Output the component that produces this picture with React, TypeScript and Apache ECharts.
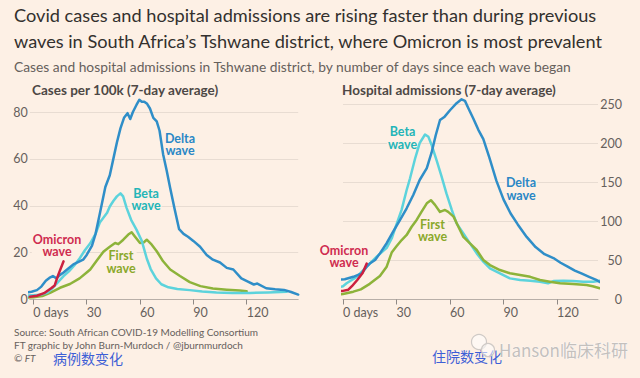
import React, { useEffect, useRef } from "react";
import * as echarts from "echarts";

// ---------- data (day since wave began, 7-day average) ----------
const dayTicks = [0, 30, 60, 90, 120];
const casesTicks = [0, 20, 40, 60, 80];
const admissionTicks = [0, 50, 100, 150, 200, 250];

const casesFirst = [
  [-4.7, 0.8], [0, 1], [5, 1.5], [9.4, 2.8], [15, 5], [20.6, 6.6], [26, 9], [30, 11.5], [32, 12.8],
  [35.6, 16.5], [39.4, 20.4], [43, 22.5], [46, 24.1], [47.8, 23.6], [50.6, 25.5], [53.4, 27.7],
  [55.3, 28.7], [57, 27], [60, 24.1], [62, 24.3], [63.8, 25.5], [66.6, 23.4], [69.4, 20.6], [73, 16.3],
  [77, 12.8], [82.5, 10], [88, 7.4], [94, 5.7], [101, 4.7], [108.8, 4.2], [116, 3.8], [120, 3.5],
];
const casesBeta = [
  [-4.7, 1.6], [0, 1.8], [4, 2], [8, 3], [11, 5], [14, 7.5], [17, 10], [20, 12], [23, 14.5], [26, 17.5],
  [29, 21], [32, 24], [35, 28], [37.5, 33], [39.5, 35], [41.5, 37], [43, 39.7], [45, 42], [47, 44],
  [49, 45.3], [50.5, 44], [52.5, 39], [55, 34], [58, 29.8], [61, 25], [63.8, 17.5], [66, 13], [69, 9],
  [72, 6.5], [76, 5.2], [81, 4.5], [88, 4], [95, 3.4], [103, 3], [112, 2.8], [122, 2.8], [132, 3], [142.5, 3.3],
];
const casesDelta = [
  [-4.7, 3], [-1, 3.3], [2, 4], [4.5, 5.5], [7, 8], [9, 9.2], [11, 10], [13, 9], [15, 10.5], [17, 11.5],
  [19, 12.8], [22.5, 15], [26, 16.3], [28, 17], [30, 19], [33, 23], [35, 28], [37.5, 37], [40.5, 48],
  [43, 53], [45, 60], [47, 67], [49, 73], [51, 77.5], [53, 79.5], [54.5, 77], [56, 80], [58, 83],
  [59.6, 85.2], [61, 84.4], [62.4, 84.4], [64, 83.5], [65.6, 81.5], [67.5, 77.5], [69.4, 76], [71, 72],
  [73, 62], [75, 55], [77, 47.5], [79.5, 38.5], [82, 30], [84.5, 28], [87, 26.8], [90, 25], [93.8, 22.5],
  [97.5, 19], [101, 17], [105, 15.8], [108.8, 13.5], [112.5, 12.8], [117, 9], [121, 7.5], [124, 6.4],
  [126, 6.8], [131, 4.8], [136, 4.4], [141, 4.1], [145, 3.2], [149, 2.1],
];
const casesOmicron = [[-2, 1.2], [2, 1.6], [6, 2.7], [10, 4.8], [12, 6], [14, 10.5], [17, 16.3]];

const admFirst = [
  [-4.5, 5.8], [0, 7], [5.8, 10], [10, 13], [15, 20], [20.7, 30], [24.5, 42], [27.3, 60], [30, 68],
  [32.9, 76], [35.7, 82.5], [38.5, 93], [41.3, 101.7], [44, 112], [47, 123], [49.3, 127], [51.6, 121],
  [54.4, 112], [57.2, 114.5], [59, 112], [62, 106], [64.7, 93], [67.5, 80], [71.2, 71.8], [75, 63.3],
  [78.7, 50.5], [82.4, 44], [88, 37.7], [93.6, 33.5], [99.3, 31.3], [105, 29], [110.5, 25], [116, 22.8],
  [121.7, 20.7], [129, 19.8], [136.6, 18.5], [140, 17], [144, 14.3],
];
const admBeta = [
  [-4.5, 14], [0, 17], [2, 20.7], [7.7, 29], [13.3, 42], [18.9, 54.8], [24.5, 66], [27.3, 78], [30, 96],
  [32.9, 115], [35.7, 140], [37.6, 155], [40.4, 180], [43, 200], [46, 211], [47.9, 208], [49.7, 197.6],
  [52.5, 178], [55.3, 157], [58, 135.7], [61, 114.5], [63.7, 97.4], [67.5, 84.6], [71.2, 71.8], [75, 59],
  [78.7, 48.4], [82.4, 39.8], [88, 33.5], [93.6, 27], [99.3, 25], [105, 24], [110.5, 22.8], [115, 20.7],
  [118, 23.6], [123.6, 24], [129, 23.6], [134.8, 22.8], [140.4, 22.8], [144, 24],
];
const admDelta = [
  [-4.5, 25], [1, 25.8], [5.8, 29], [10.5, 33.5], [13.3, 42], [15, 46], [18, 50.5], [20.7, 59],
  [24.5, 72], [28.2, 87], [32, 101.7], [35.7, 116.6], [39.4, 133.6], [43, 152.8], [47, 168], [49.7, 188],
  [52, 210], [54.4, 229.5], [57, 233.8], [60, 242], [63.7, 251], [66.5, 256], [68.4, 254], [70.3, 244.5],
  [73, 231.7], [75.9, 217], [78.7, 205], [82, 182], [86, 152], [90, 128], [94, 110], [98, 96], [103, 80],
  [108, 67], [113, 58], [118, 53], [122, 47], [126, 42], [130, 37], [134, 33], [138, 29], [142, 25],
  [145, 21], [149, 19.5],
];
const admOmicron = [[-4.5, 10], [0, 11], [3, 12.5], [5, 17], [8, 25], [11, 34], [13.3, 46]];

// ---------- style ----------
const BG = "#fdf0e5";
const FONT = "Lato, 'Noto Sans', sans-serif";
const CJK = "'Noto Sans CJK SC', sans-serif";
const C_DELTA = "#2f8ec8";
const C_BETA = "#5cd3dc";
const C_FIRST = "#8db33a";
const C_OMI = "#cc1f3f";
const T_DELTA = "#2a87c5";
const T_BETA = "#23b5b8";
const T_FIRST = "#8aa82a";
const T_OMI = "#cf2b4f";
const GREY = "#66605c";

const TITLE_1 = "Covid cases and hospital admissions are rising faster than during previous";
const TITLE_2 = "waves in South Africa\u2019s Tshwane district, where Omicron is most prevalent";
const SUBTITLE = "Cases and hospital admissions in Tshwane district, by number of days since each wave began";

// font size that makes a text span a given width
function fitSize(text: string, target: number, weight = "normal") {
  const ctx = document.createElement("canvas").getContext("2d");
  if (!ctx) return 16;
  ctx.font = `${weight} 20px Lato`;
  const w = ctx.measureText(text).width || 1;
  return (20 * target) / w;
}

function txt(x: number, y: number, text: string, style: any = {}, z = 100) {
  return {
    type: "text",
    x,
    y,
    z,
    silent: true,
    style: {
      text,
      fontFamily: FONT,
      fontSize: 12,
      fill: GREY,
      verticalAlign: "middle",
      align: "left",
      ...style,
    },
  };
}

// annotations sit above the gridlines but below the data lines
function note(x: number, y: number, text: string, color: string) {
  return txt(
    x,
    y,
    text,
    {
      fill: color,
      fontSize: 12.5,
      fontWeight: "bold",
      lineHeight: 12.5,
      align: "center",
      verticalAlign: "top",
      backgroundColor: BG,
      padding: [0, 1],
    },
    1
  );
}

function lineSeries(name: string, data: number[][], color: string, idx: number, z: number) {
  return {
    name,
    type: "line",
    xAxisIndex: idx,
    yAxisIndex: idx,
    data,
    symbol: "none",
    showSymbol: false,
    clip: false,
    silent: true,
    z,
    lineStyle: { color, width: 2.5, join: "round", cap: "round" },
  };
}

function xAxis(idx: number, min: number, max: number) {
  return {
    type: "value",
    gridIndex: idx,
    min,
    max,
    axisLine: { show: true, lineStyle: { color: "#b8afa8", width: 1 } },
    axisTick: { show: true, customValues: dayTicks, length: 5, lineStyle: { color: "#8f8985" } },
    axisLabel: {
      customValues: dayTicks,
      formatter: (v: number) => (v === 0 ? "0 days" : String(v)),
      align: "left",
      margin: 6,
      color: GREY,
      fontSize: 12.5,
      fontFamily: FONT,
    },
    splitLine: { show: false },
  };
}

export default function App() {
  const ref = useRef<HTMLDivElement>(null);

  useEffect(() => {
    const chart = echarts.init(ref.current!, null, { renderer: "svg" });
    const t1 = fitSize(TITLE_1, 583);
    const t2 = fitSize(TITLE_2, 594);
    const titleSize = Math.min(t1, t2);
    const subSize = fitSize(SUBTITLE, 559);
    const option: any = {
      animation: false,
      backgroundColor: BG,
      grid: [
        { left: 29.8, top: 112, width: 268.4, height: 187.5 },
        { left: 343, top: 104, width: 255, height: 195.5 },
      ],
      xAxis: [xAxis(0, -2, 149), xAxis(1, 0, 143)],
      yAxis: [
        {
          type: "value",
          gridIndex: 0,
          min: casesTicks[0],
          max: casesTicks[casesTicks.length - 1],
          interval: 20,
          axisLine: { show: false },
          axisTick: { show: false },
          axisLabel: { margin: 2, color: GREY, fontSize: 12.5, fontFamily: FONT },
          splitLine: { lineStyle: { color: "#e8dcd2", width: 1 } },
        },
        {
          type: "value",
          gridIndex: 1,
          position: "right",
          min: admissionTicks[0],
          max: admissionTicks[admissionTicks.length - 1],
          interval: 50,
          axisLine: { show: false },
          axisTick: { show: false },
          axisLabel: { margin: 24, align: "right", color: GREY, fontSize: 12.5, fontFamily: FONT },
          splitLine: { lineStyle: { color: "#e8dcd2", width: 1 } },
        },
      ],
      series: [
        lineSeries("First wave", casesFirst, C_FIRST, 0, 2),
        lineSeries("Beta wave", casesBeta, C_BETA, 0, 3),
        lineSeries("Delta wave", casesDelta, C_DELTA, 0, 4),
        lineSeries("Omicron wave", casesOmicron, C_OMI, 0, 5),
        lineSeries("Beta wave", admBeta, C_BETA, 1, 2),
        lineSeries("First wave", admFirst, C_FIRST, 1, 3),
        lineSeries("Delta wave", admDelta, C_DELTA, 1, 4),
        lineSeries("Omicron wave", admOmicron, C_OMI, 1, 5),
      ],
      graphic: {
        elements: [
          txt(14, 15, TITLE_1, { fontSize: titleSize, fill: "#33302e" }),
          txt(14, 41, TITLE_2, { fontSize: titleSize, fill: "#33302e" }),
          txt(14, 66, SUBTITLE, { fontSize: subSize, fill: GREY }),
          txt(32, 90, "Cases per 100k (7-day average)", { fontSize: 13.5, fontWeight: "bold", fill: "#4d4845" }),
          txt(342, 90, "Hospital admissions (7-day average)", { fontSize: 13.5, fontWeight: "bold", fill: "#4d4845" }),
          note(180, 132, "Delta\nwave", T_DELTA),
          note(146, 187, "Beta\nwave", T_BETA),
          note(57, 233, "Omicron\nwave", T_OMI),
          note(121, 249.5, "First\nwave", T_FIRST),
          note(402.5, 125.5, "Beta\nwave", T_BETA),
          note(521, 176.5, "Delta\nwave", T_DELTA),
          note(432.5, 218, "First\nwave", T_FIRST),
          note(344, 244, "Omicron\nwave", T_OMI),
          txt(14, 332, "Source: South African COVID-19 Modelling Consortium", { fontSize: 10 }),
          txt(14, 345, "FT graphic by John Burn-Murdoch / @jburnmurdoch", { fontSize: 10 }),
          txt(14, 358, "\u00a9 FT", { fontSize: 10, fontStyle: "italic" }),
          txt(53, 358, "病例数变化", { fontFamily: CJK, fontSize: 14, fill: "#3d5fd6" }),
          txt(432, 356, "住院数变化", { fontFamily: CJK, fontSize: 14, fill: "#3d5fd6" }),
          {
            type: "circle",
            z: 100,
            silent: true,
            shape: { cx: 479, cy: 342, r: 7.5 },
            style: { fill: "rgba(255,255,255,0.55)", stroke: "#cfcac6", lineWidth: 1.2 },
          },
          {
            type: "circle",
            z: 100,
            silent: true,
            shape: { cx: 488, cy: 350, r: 6.5 },
            style: { fill: "rgba(255,255,255,0.55)", stroke: "#cfcac6", lineWidth: 1.2 },
          },
          txt(499, 349, "Hanson临床科研", {
            fontFamily: CJK, fontSize: 17, fill: "#c4c0bd", stroke: "#ffffff", lineWidth: 0.6,
          }),
        ],
      },
    };
    chart.setOption(option);
    return () => chart.dispose();
  }, []);

  return (
    <div
      ref={ref}
      style={{ position: "fixed", left: 0, top: 0, width: 640, height: 378, background: BG }}
    />
  );
}
